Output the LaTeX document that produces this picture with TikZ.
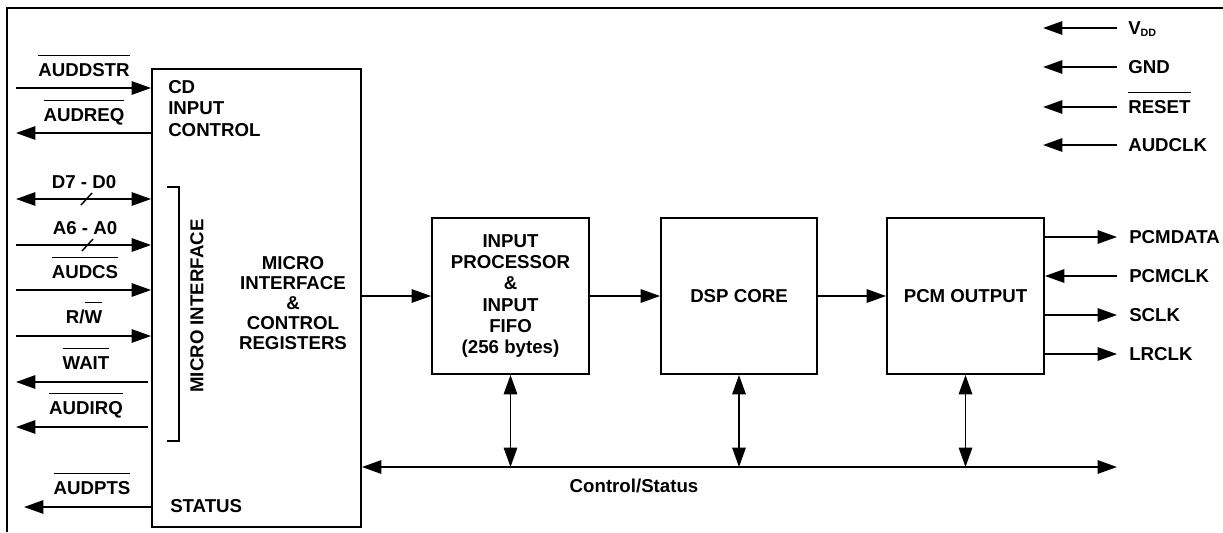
\documentclass[tikz,border=0pt]{standalone}
\usepackage{fontspec}
\setmainfont{Liberation Sans}
\usetikzlibrary{arrows.meta}
\newcommand\ovl[1]{\vbox{\hrule height 1.1pt\kern 5pt\hbox{#1}}}
\begin{document}
\begin{tikzpicture}[x=0.75pt,y=-0.75pt,
  every node/.style={font=\fontsize{14}{16}\selectfont\bfseries, inner sep=0pt},
  blk/.style={draw, line width=1.4pt, inner sep=0pt},
  sig/.style={line width=1.4pt, -{Triangle[length=14.5pt,width=10pt]}},
  bisig/.style={line width=1.4pt, {Triangle[length=14.5pt,width=10pt]}-{Triangle[length=14.5pt,width=10pt]}},
  lbl/.style={anchor=base},
  rlbl/.style={anchor=base west},
  slash/.style={line width=1.1pt}]
\useasboundingbox (0,0) rectangle (1223,532);
% frame
\draw[line width=1.4pt] (7,532) -- (7,8);
\draw[line width=2.2pt] (6,8) -- (1223,8);
% blocks
\node[blk, minimum width=156.75pt, minimum height=343.5pt] (main) at (256.5,298) {};
\node[blk, minimum width=117.75pt, minimum height=117pt, align=center] (ip) at (510.5,296) {INPUT\\PROCESSOR\\\&\\INPUT\\FIFO\\(256 bytes)};
\node[blk, minimum width=117pt, minimum height=117pt] (dsp) at (739,296) {DSP CORE};
\node[blk, minimum width=117.75pt, minimum height=117pt] (pcm) at (965.5,296) {PCM OUTPUT};
% texts inside main block
\node[anchor=west, align=left] (cdtxt) at (168,108.5) {CD\\INPUT\\CONTROL};
\node[align=center, font=\fontsize{14}{15}\selectfont\bfseries] (mictxt) at (293,303) {MICRO\\INTERFACE\\\&\\CONTROL\\REGISTERS};
\node[anchor=west] (status) at (170,506) {STATUS};
\node[rotate=90] (mitxt) at (197,306) {MICRO INTERFACE};
\draw[line width=1.4pt] (167,187) -- (179,187) -- (179,441) -- (167,441);
% left signals
\coordinate (s1) at (16,88);
\coordinate (s2) at (16,133);
\coordinate (s3) at (16,199);
\coordinate (s4) at (16,245);
\coordinate (s5) at (16,290);
\coordinate (s6) at (16,336);
\coordinate (s7) at (16,382);
\coordinate (s7e) at (148,382);
\coordinate (s8) at (16,427);
\coordinate (s8e) at (148,427);
\coordinate (s9) at (24,507);
\draw[sig] (s1) -- (s1 -| main.west);
\draw[sig] (s2 -| main.west) -- (s2);
\draw[bisig] (s3) -- (s3 -| main.west);
\draw[sig] (s4) -- (s4 -| main.west);
\draw[sig] (s5) -- (s5 -| main.west);
\draw[sig] (s6) -- (s6 -| main.west);
\draw[sig] (s7e) -- (s7);
\draw[sig] (s8e) -- (s8);
\draw[sig] (s9 -| main.west) -- (s9);
\draw[slash] (81,205) -- (92,193);
\draw[slash] (82,251) -- (93,239);
\node[lbl] (l1) at (84,76) {\ovl{AUDDSTR}};
\node[lbl] (l2) at (84,121) {\ovl{AUDREQ}};
\node[lbl] (l3) at (84,188) {D7 - D0};
\node[lbl] (l4) at (85,234) {A6 - A0};
\node[lbl] (l5) at (85,278) {\ovl{AUDCS}};
\node[lbl] (l6) at (84,323) {R/\ovl{W}};
\node[lbl] (l7) at (86,369) {\ovl{WAIT}};
\node[lbl] (l8) at (86,414) {\ovl{AUDIRQ}};
\node[lbl] (l9) at (92,494) {\ovl{AUDPTS}};
% data path
\draw[sig] (main.east |- ip.west) -- (ip.west);
\draw[sig] (ip.east) -- (dsp.west);
\draw[sig] (dsp.east) -- (pcm.west);
% bus
\coordinate (busR) at (1117,467);
\coordinate (busL) at (main.east |- busR);
\draw[bisig] (busR) -- (busL);
\draw[bisig] (ip.south) -- (ip.south |- busR);
\draw[bisig] (dsp.south) -- (dsp.south |- busR);
\draw[bisig] (pcm.south) -- (pcm.south |- busR);
\node[lbl] (cs) at (634,492) {Control/Status};
% top-right supply inputs
\coordinate (r1s) at (1117,28);  \coordinate (r1t) at (1043,28);
\coordinate (r2s) at (1117,67);  \coordinate (r2t) at (1043,67);
\coordinate (r3s) at (1117,107); \coordinate (r3t) at (1043,107);
\coordinate (r4s) at (1117,145); \coordinate (r4t) at (1043,145);
\draw[sig] (r1s) -- (r1t);
\draw[sig] (r2s) -- (r2t);
\draw[sig] (r3s) -- (r3t);
\draw[sig] (r4s) -- (r4t);
\node[rlbl] (t1) at (1128,34) {V\raisebox{-1.5pt}{\fontsize{8}{8}\selectfont\bfseries DD}};
\node[rlbl] (t2) at (1128,73) {GND};
\node[rlbl] (t3) at (1128,113) {\ovl{RESET}};
\node[rlbl] (t4) at (1128,151) {AUDCLK};
% PCM outputs
\coordinate (p1) at (1117,237);
\coordinate (p2) at (1117,276);
\coordinate (p3) at (1117,315);
\coordinate (p4) at (1117,354);
\draw[sig] (p1 -| pcm.east) -- (p1);
\draw[sig] (p2) -- (p2 -| pcm.east);
\draw[sig] (p3 -| pcm.east) -- (p3);
\draw[sig] (p4 -| pcm.east) -- (p4);
\node[rlbl] (o1) at (1129,243) {PCMDATA};
\node[rlbl] (o2) at (1129,282) {PCMCLK};
\node[rlbl] (o3) at (1129,321) {SCLK};
\node[rlbl] (o4) at (1129,360) {LRCLK};
\end{tikzpicture}
\end{document}
